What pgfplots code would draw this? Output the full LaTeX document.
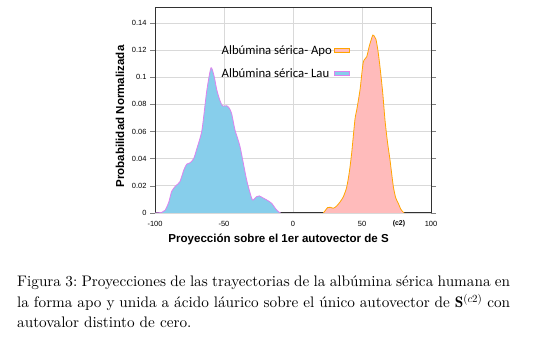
\documentclass[border=0pt]{standalone}
\usepackage{fontspec}
\usepackage{pgfplots}
\pgfplotsset{compat=1.18}
\newfontfamily\arial{Liberation Sans}
\newfontfamily\carlito{Carlito}
\newfontfamily\capfont{lmroman10-regular}[Extension=.otf, BoldFont=lmroman10-bold]
\definecolor{laufill}{RGB}{135,206,235}
\definecolor{lauline}{RGB}{221,130,238}
\definecolor{apofill}{RGB}{255,187,187}
\definecolor{apoline}{RGB}{255,165,0}
\definecolor{gridc}{RGB}{217,217,217}
\definecolor{framec}{RGB}{50,50,50}
\begin{document}
\frenchspacing
\begin{tikzpicture}[x=1bp,y=1bp]
\useasboundingbox (0bp,0bp) rectangle (548bp,353bp);
\begin{axis}[at={(155bp,140bp)}, anchor=south west,
  width=276bp, height=205bp, scale only axis,
  xmin=-100, xmax=100, ymin=0, ymax=0.151,
  xtick={-100,-50,0,50,100},
  ytick={0,0.02,0.04,0.06,0.08,0.1,0.12,0.14},
  scaled y ticks=false,
  /pgf/number format/assume math mode=true,
  yticklabel style={/pgf/number format/fixed,/pgf/number format/precision=2},
  ticklabel style={font=\arial\fontsize{7.5}{8}\selectfont},
  tick align=outside, major tick length=5bp,
  x tick style={draw=none},
  y tick style={gray, line width=0.6bp},
  grid=major, grid style={gridc, line width=0.8bp},
  axis line style={framec, line width=1bp},
  xlabel={\bfseries Proyección sobre el 1er autovector de S\hspace{4bp}\raisebox{17bp}{\fontsize{7}{8}\selectfont (c2)}},
  every axis x label/.style={at={(axis description cs:0.048,-0.1449)}, anchor=base west, inner sep=0pt, font=\arial\fontsize{11.6}{13}\selectfont},
  ylabel={\bfseries Probabilidad Normalizada},
  every axis y label/.style={at={(axis description cs:-0.1268,0.4707)}, rotate=90, anchor=center, inner sep=0pt, font=\arial\fontsize{11.6}{13}\selectfont},
  legend plot pos=right,
  legend cell align=left,
  legend style={at={(axis description cs:0.2417,0.8195)}, anchor=north west, draw=none, fill=none,
    inner sep=0pt, outer sep=0pt, row sep=11bp, column sep=2bp,
    font=\carlito\fontsize{12.8}{15}\selectfont,
    nodes={inner sep=0pt, text height=9bp, text depth=3bp}},
]
\addplot[draw=none, fill=apofill, smooth, tension=0.4,
  legend image code/.code={\draw[fill=apofill, draw=apoline, line width=0.8bp] (0bp,-1.6bp) rectangle (15bp,2.8bp);}]
coordinates {(22,0) (23.5,0.002) (25.1,0.004) (27,0.0042) (29.2,0.0035) (31.5,0.005) (34,0.008) (36.5,0.012) (38.9,0.019) (40.8,0.03) (42.5,0.044) (44.9,0.069) (46.2,0.076) (48.6,0.091) (50.9,0.111) (53.4,0.115) (55.3,0.123) (57.8,0.131) (59,0.13) (60.1,0.128) (61.5,0.12) (63,0.108) (65,0.0887) (66.7,0.068) (68.5,0.052) (70.3,0.039) (72.7,0.0195) (74.5,0.011) (76.3,0.0072) (78,0.003) (79.5,0.001) (80.5,0)} \closedcycle;
\addlegendentry{Albúmina sérica- Apo}
\addplot[draw=none, fill=laufill, smooth, tension=0.4,
  legend image code/.code={\draw[fill=laufill, draw=lauline, line width=0.8bp] (0bp,-1.6bp) rectangle (15bp,2.8bp);}]
coordinates {(-100,0) (-95,0.0005) (-92.7,0.002) (-90,0.008) (-87.9,0.016) (-85,0.02) (-82,0.023) (-79,0.032) (-77,0.036) (-74.6,0.037) (-72,0.04) (-69.8,0.047) (-66,0.061) (-62.5,0.09) (-59.4,0.107) (-57,0.1) (-55.3,0.091) (-53,0.083) (-51,0.0788) (-48,0.079) (-46,0.077) (-44.4,0.073) (-42,0.061) (-38.4,0.049) (-33.6,0.0244) (-30,0.011) (-28.8,0.0096) (-26.5,0.012) (-24.4,0.0126) (-21.5,0.011) (-19,0.0096) (-15.5,0.0072) (-12.5,0.003) (-10.6,0.001) (-9,0)} \closedcycle;
\addlegendentry{Albúmina sérica- Lau}
\addplot[apoline, line width=0.8bp, smooth, tension=0.4, forget plot]
coordinates {(22,0) (23.5,0.002) (25.1,0.004) (27,0.0042) (29.2,0.0035) (31.5,0.005) (34,0.008) (36.5,0.012) (38.9,0.019) (40.8,0.03) (42.5,0.044) (44.9,0.069) (46.2,0.076) (48.6,0.091) (50.9,0.111) (53.4,0.115) (55.3,0.123) (57.8,0.131) (59,0.13) (60.1,0.128) (61.5,0.12) (63,0.108) (65,0.0887) (66.7,0.068) (68.5,0.052) (70.3,0.039) (72.7,0.0195) (74.5,0.011) (76.3,0.0072) (78,0.003) (79.5,0.001) (80.5,0)};
\addplot[lauline, line width=0.8bp, smooth, tension=0.4, forget plot]
coordinates {(-100,0) (-95,0.0005) (-92.7,0.002) (-90,0.008) (-87.9,0.016) (-85,0.02) (-82,0.023) (-79,0.032) (-77,0.036) (-74.6,0.037) (-72,0.04) (-69.8,0.047) (-66,0.061) (-62.5,0.09) (-59.4,0.107) (-57,0.1) (-55.3,0.091) (-53,0.083) (-51,0.0788) (-48,0.079) (-46,0.077) (-44.4,0.073) (-42,0.061) (-38.4,0.049) (-33.6,0.0244) (-30,0.011) (-28.8,0.0096) (-26.5,0.012) (-24.4,0.0126) (-21.5,0.011) (-19,0.0096) (-15.5,0.0072) (-12.5,0.003) (-10.6,0.001) (-9,0)};
\end{axis}
\node[anchor=base west, inner sep=0pt, font=\capfont\fontsize{15.3}{20.5}\selectfont] at (17bp,66bp)
  {\makebox[493bp][s]{Figura 3: Proyecciones de las trayectorias de la albúmina sérica humana en}};
\node[anchor=base west, inner sep=0pt, font=\capfont\fontsize{15.3}{20.5}\selectfont] at (17bp,45.7bp)
  {\makebox[493bp][s]{la forma apo y unida a ácido láurico sobre el único autovector de $\mathbf{S}^{(c2)}$ con}};
\node[anchor=base west, inner sep=0pt, font=\capfont\fontsize{15.3}{20.5}\selectfont] at (17bp,25.7bp)
  {autovalor distinto de cero.};
\end{tikzpicture}
\end{document}
